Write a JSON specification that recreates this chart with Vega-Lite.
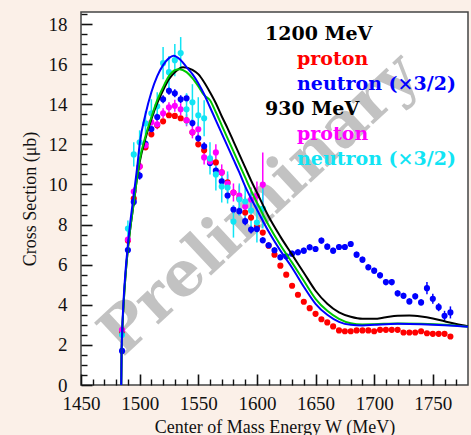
{
"$schema":"https://vega.github.io/schema/vega-lite/v6.json",
"width":387,"height":373,
"autosize":{"type":"none"},
"padding":{"left":81,"top":12,"right":3,"bottom":50},
"background":"#fbf0e8",
"config":{
 "view":{"fill":"white","stroke":"#444","strokeWidth":1.5},
 "axis":{"domain":false,"labelFont":"Liberation Serif","labelFontSize":19,"labelColor":"#111","titleFont":"Liberation Serif","titleFontSize":18,"titleFontWeight":"normal","titleColor":"#111","gridColor":"#777","gridDash":[2,2],"gridWidth":1,"tickColor":"#222","tickWidth":1.5,"labelOverlap":false,"labelFlush":false}
},
"datasets":{
 "pts":[
  {"s":"p1200","W":1485,"v":2.6,"e":0.1},{"s":"p1200","W":1490,"v":7.2,"e":0.1},{"s":"p1200","W":1495,"v":9.3,"e":0.1},{"s":"p1200","W":1500,"v":10.9,"e":0.1},{"s":"p1200","W":1505,"v":11.85,"e":0.1},{"s":"p1200","W":1510,"v":12.5,"e":0.1},{"s":"p1200","W":1515,"v":12.95,"e":0.1},{"s":"p1200","W":1520,"v":13.15,"e":0.1},{"s":"p1200","W":1525,"v":13.45,"e":0.1},{"s":"p1200","W":1530,"v":13.42,"e":0.1},{"s":"p1200","W":1535,"v":13.3,"e":0.1},{"s":"p1200","W":1540,"v":13.2,"e":0.1},{"s":"p1200","W":1545,"v":12.6,"e":0.1},{"s":"p1200","W":1550,"v":12.0,"e":0.1},{"s":"p1200","W":1555,"v":11.7,"e":0.1},{"s":"p1200","W":1560,"v":11.2,"e":0.1},{"s":"p1200","W":1565,"v":11.1,"e":0.1},{"s":"p1200","W":1570,"v":10.6,"e":0.1},{"s":"p1200","W":1575,"v":10.1,"e":0.1},{"s":"p1200","W":1580,"v":9.6,"e":0.1},{"s":"p1200","W":1585,"v":9.3,"e":0.1},{"s":"p1200","W":1590,"v":8.6,"e":0.1},{"s":"p1200","W":1595,"v":8.35,"e":0.1},{"s":"p1200","W":1600,"v":7.9,"e":0.1},{"s":"p1200","W":1605,"v":7.6,"e":0.1},{"s":"p1200","W":1610,"v":6.95,"e":0.1},{"s":"p1200","W":1615,"v":6.5,"e":0.1},{"s":"p1200","W":1620,"v":5.95,"e":0.1},{"s":"p1200","W":1625,"v":5.5,"e":0.1},{"s":"p1200","W":1630,"v":4.95,"e":0.1},{"s":"p1200","W":1635,"v":4.5,"e":0.1},{"s":"p1200","W":1640,"v":4.15,"e":0.1},{"s":"p1200","W":1645,"v":3.83,"e":0.1},{"s":"p1200","W":1650,"v":3.55,"e":0.1},{"s":"p1200","W":1655,"v":3.28,"e":0.1},{"s":"p1200","W":1660,"v":3.12,"e":0.1},{"s":"p1200","W":1665,"v":2.92,"e":0.1},{"s":"p1200","W":1670,"v":2.72,"e":0.1},{"s":"p1200","W":1675,"v":2.68,"e":0.1},{"s":"p1200","W":1680,"v":2.68,"e":0.1},{"s":"p1200","W":1685,"v":2.72,"e":0.1},{"s":"p1200","W":1690,"v":2.72,"e":0.1},{"s":"p1200","W":1695,"v":2.72,"e":0.1},{"s":"p1200","W":1700,"v":2.68,"e":0.1},{"s":"p1200","W":1705,"v":2.75,"e":0.1},{"s":"p1200","W":1710,"v":2.75,"e":0.1},{"s":"p1200","W":1715,"v":2.75,"e":0.1},{"s":"p1200","W":1720,"v":2.75,"e":0.1},{"s":"p1200","W":1725,"v":2.62,"e":0.1},{"s":"p1200","W":1730,"v":2.62,"e":0.1},{"s":"p1200","W":1735,"v":2.62,"e":0.1},{"s":"p1200","W":1740,"v":2.68,"e":0.1},{"s":"p1200","W":1745,"v":2.58,"e":0.1},{"s":"p1200","W":1750,"v":2.55,"e":0.1},{"s":"p1200","W":1755,"v":2.55,"e":0.1},{"s":"p1200","W":1760,"v":2.55,"e":0.1},{"s":"p1200","W":1765,"v":2.42,"e":0.1},
  {"s":"n1200","W":1485,"v":1.7,"e":0.15},{"s":"n1200","W":1490,"v":6.73,"e":0.15},{"s":"n1200","W":1495,"v":9.13,"e":0.2},{"s":"n1200","W":1500,"v":10.44,"e":0.2},{"s":"n1200","W":1505,"v":12.03,"e":0.2},{"s":"n1200","W":1510,"v":12.76,"e":0.2},{"s":"n1200","W":1515,"v":13.36,"e":0.2},{"s":"n1200","W":1520,"v":14.25,"e":0.2},{"s":"n1200","W":1525,"v":14.67,"e":0.2},{"s":"n1200","W":1530,"v":14.55,"e":0.2},{"s":"n1200","W":1535,"v":14.25,"e":0.2},{"s":"n1200","W":1540,"v":14.3,"e":0.2},{"s":"n1200","W":1545,"v":13.06,"e":0.2},{"s":"n1200","W":1550,"v":12.3,"e":0.2},{"s":"n1200","W":1555,"v":11.9,"e":0.2},{"s":"n1200","W":1560,"v":11.07,"e":0.2},{"s":"n1200","W":1565,"v":10.69,"e":0.2},{"s":"n1200","W":1570,"v":10.16,"e":0.2},{"s":"n1200","W":1575,"v":9.45,"e":0.2},{"s":"n1200","W":1580,"v":8.75,"e":0.2},{"s":"n1200","W":1585,"v":8.67,"e":0.2},{"s":"n1200","W":1590,"v":8.17,"e":0.2},{"s":"n1200","W":1595,"v":7.75,"e":0.2},{"s":"n1200","W":1600,"v":7.78,"e":0.2},{"s":"n1200","W":1605,"v":7.22,"e":0.15},{"s":"n1200","W":1610,"v":6.97,"e":0.15},{"s":"n1200","W":1615,"v":6.72,"e":0.15},{"s":"n1200","W":1620,"v":6.37,"e":0.15},{"s":"n1200","W":1625,"v":6.42,"e":0.15},{"s":"n1200","W":1630,"v":6.55,"e":0.15},{"s":"n1200","W":1635,"v":6.62,"e":0.15},{"s":"n1200","W":1640,"v":6.7,"e":0.15},{"s":"n1200","W":1645,"v":6.87,"e":0.15},{"s":"n1200","W":1650,"v":6.78,"e":0.15},{"s":"n1200","W":1655,"v":7.2,"e":0.15},{"s":"n1200","W":1660,"v":6.9,"e":0.15},{"s":"n1200","W":1665,"v":6.7,"e":0.15},{"s":"n1200","W":1670,"v":6.88,"e":0.15},{"s":"n1200","W":1675,"v":6.88,"e":0.15},{"s":"n1200","W":1680,"v":7.03,"e":0.15},{"s":"n1200","W":1685,"v":6.5,"e":0.15},{"s":"n1200","W":1690,"v":6.25,"e":0.15},{"s":"n1200","W":1695,"v":5.87,"e":0.15},{"s":"n1200","W":1700,"v":5.7,"e":0.15},{"s":"n1200","W":1705,"v":5.47,"e":0.15},{"s":"n1200","W":1710,"v":5.13,"e":0.15},{"s":"n1200","W":1715,"v":5.13,"e":0.15},{"s":"n1200","W":1720,"v":4.57,"e":0.15},{"s":"n1200","W":1725,"v":4.45,"e":0.15},{"s":"n1200","W":1730,"v":4.17,"e":0.15},{"s":"n1200","W":1735,"v":4.42,"e":0.15},{"s":"n1200","W":1740,"v":4.12,"e":0.15},{"s":"n1200","W":1745,"v":4.83,"e":0.3},{"s":"n1200","W":1750,"v":4.3,"e":0.25},{"s":"n1200","W":1755,"v":3.88,"e":0.2},{"s":"n1200","W":1760,"v":3.45,"e":0.25},{"s":"n1200","W":1765,"v":3.62,"e":0.3},
  {"s":"p930","W":1485,"v":2.75,"e":0.15},{"s":"p930","W":1490,"v":7.25,"e":0.2},{"s":"p930","W":1495,"v":9.65,"e":0.2},{"s":"p930","W":1500,"v":10.9,"e":0.2},{"s":"p930","W":1505,"v":11.95,"e":0.2},{"s":"p930","W":1510,"v":13.1,"e":0.25},{"s":"p930","W":1515,"v":13.0,"e":0.25},{"s":"p930","W":1520,"v":13.55,"e":0.25},{"s":"p930","W":1525,"v":13.85,"e":0.25},{"s":"p930","W":1530,"v":13.92,"e":0.3},{"s":"p930","W":1535,"v":13.75,"e":0.3},{"s":"p930","W":1540,"v":13.2,"e":0.3},{"s":"p930","W":1545,"v":12.6,"e":0.3},{"s":"p930","W":1550,"v":12.75,"e":0.35},{"s":"p930","W":1555,"v":11.35,"e":0.35},{"s":"p930","W":1560,"v":11.15,"e":0.35},{"s":"p930","W":1565,"v":11.6,"e":0.4},{"s":"p930","W":1570,"v":10.6,"e":0.4},{"s":"p930","W":1575,"v":10.05,"e":0.45},{"s":"p930","W":1580,"v":9.6,"e":0.45},{"s":"p930","W":1585,"v":9.45,"e":0.5},{"s":"p930","W":1590,"v":8.9,"e":0.5},{"s":"p930","W":1595,"v":9.25,"e":0.6},{"s":"p930","W":1600,"v":9.45,"e":0.7},{"s":"p930","W":1605,"v":10.0,"e":1.6},
  {"s":"n930","W":1485,"v":2.5,"e":0.2},{"s":"n930","W":1490,"v":7.8,"e":0.4},{"s":"n930","W":1495,"v":11.5,"e":0.6},{"s":"n930","W":1500,"v":12.1,"e":0.6},{"s":"n930","W":1505,"v":13.05,"e":0.6},{"s":"n930","W":1510,"v":13.55,"e":0.7},{"s":"n930","W":1515,"v":13.9,"e":0.7},{"s":"n930","W":1520,"v":16.05,"e":0.8},{"s":"n930","W":1525,"v":15.6,"e":0.8},{"s":"n930","W":1530,"v":16.2,"e":0.8},{"s":"n930","W":1535,"v":16.55,"e":0.8},{"s":"n930","W":1540,"v":13.75,"e":0.8},{"s":"n930","W":1545,"v":14.1,"e":0.9},{"s":"n930","W":1550,"v":13.45,"e":0.9},{"s":"n930","W":1555,"v":13.3,"e":0.9},{"s":"n930","W":1560,"v":11.3,"e":0.8},{"s":"n930","W":1565,"v":10.5,"e":0.8},{"s":"n930","W":1570,"v":9.9,"e":0.8},{"s":"n930","W":1575,"v":9.85,"e":0.8},{"s":"n930","W":1580,"v":8.15,"e":0.8},{"s":"n930","W":1585,"v":9.25,"e":0.8},{"s":"n930","W":1590,"v":9.15,"e":0.8},{"s":"n930","W":1595,"v":8.7,"e":0.9},{"s":"n930","W":1600,"v":8.1,"e":1.0},{"s":"n930","W":1605,"v":8.8,"e":1.0}
 ],
 "curves":[
  {"m":"black","W":1484.3,"v":0},{"m":"black","W":1484.6,"v":1.5},{"m":"black","W":1485,"v":2.4},{"m":"black","W":1486,"v":3.7},{"m":"black","W":1487,"v":4.7},{"m":"black","W":1488,"v":5.5},{"m":"black","W":1490,"v":6.8},{"m":"black","W":1492,"v":7.8},{"m":"black","W":1495,"v":9.1},{"m":"black","W":1498,"v":10.4},{"m":"black","W":1500,"v":11.1},{"m":"black","W":1505,"v":12.3},{"m":"black","W":1510,"v":13.25},{"m":"black","W":1515,"v":14.05},{"m":"black","W":1520,"v":14.7},{"m":"black","W":1525,"v":15.25},{"m":"black","W":1530,"v":15.6},{"m":"black","W":1537,"v":15.85},{"m":"black","W":1545,"v":15.72},{"m":"black","W":1550,"v":15.5},{"m":"black","W":1555,"v":15.1},{"m":"black","W":1560,"v":14.6},{"m":"black","W":1565,"v":14.05},{"m":"black","W":1570,"v":13.4},{"m":"black","W":1575,"v":12.8},{"m":"black","W":1580,"v":12.15},{"m":"black","W":1585,"v":11.5},{"m":"black","W":1590,"v":10.85},{"m":"black","W":1595,"v":10.2},{"m":"black","W":1600,"v":9.6},{"m":"black","W":1610,"v":8.4},{"m":"black","W":1620,"v":7.4},{"m":"black","W":1630,"v":6.5},{"m":"black","W":1640,"v":5.6},{"m":"black","W":1650,"v":4.7},{"m":"black","W":1660,"v":4.05},{"m":"black","W":1670,"v":3.62},{"m":"black","W":1680,"v":3.4},{"m":"black","W":1690,"v":3.3},{"m":"black","W":1700,"v":3.3},{"m":"black","W":1710,"v":3.38},{"m":"black","W":1720,"v":3.45},{"m":"black","W":1730,"v":3.47},{"m":"black","W":1740,"v":3.42},{"m":"black","W":1750,"v":3.32},{"m":"black","W":1760,"v":3.18},{"m":"black","W":1770,"v":3.04},{"m":"black","W":1780,"v":2.93},
  {"m":"green","W":1484.3,"v":0},{"m":"green","W":1484.6,"v":1.5},{"m":"green","W":1485,"v":2.4},{"m":"green","W":1486,"v":3.7},{"m":"green","W":1487,"v":4.7},{"m":"green","W":1488,"v":5.5},{"m":"green","W":1490,"v":6.8},{"m":"green","W":1492,"v":7.8},{"m":"green","W":1495,"v":9.1},{"m":"green","W":1498,"v":10.4},{"m":"green","W":1500,"v":11.2},{"m":"green","W":1505,"v":12.4},{"m":"green","W":1510,"v":13.35},{"m":"green","W":1515,"v":14.2},{"m":"green","W":1520,"v":14.85},{"m":"green","W":1525,"v":15.4},{"m":"green","W":1530,"v":15.7},{"m":"green","W":1534,"v":15.75},{"m":"green","W":1540,"v":15.6},{"m":"green","W":1545,"v":15.3},{"m":"green","W":1550,"v":14.9},{"m":"green","W":1555,"v":14.45},{"m":"green","W":1560,"v":14.2},{"m":"green","W":1565,"v":13.6},{"m":"green","W":1570,"v":12.95},{"m":"green","W":1575,"v":12.3},{"m":"green","W":1580,"v":11.65},{"m":"green","W":1585,"v":11.0},{"m":"green","W":1590,"v":10.35},{"m":"green","W":1595,"v":9.7},{"m":"green","W":1600,"v":9.1},{"m":"green","W":1610,"v":7.97},{"m":"green","W":1620,"v":6.98},{"m":"green","W":1630,"v":6.1},{"m":"green","W":1640,"v":5.2},{"m":"green","W":1650,"v":4.3},{"m":"green","W":1660,"v":3.7},{"m":"green","W":1670,"v":3.3},{"m":"green","W":1680,"v":3.08},{"m":"green","W":1690,"v":3.02},{"m":"green","W":1700,"v":3.03},{"m":"green","W":1720,"v":3.07},{"m":"green","W":1740,"v":3.05},{"m":"green","W":1760,"v":3.0},{"m":"green","W":1780,"v":2.9},
  {"m":"blue","W":1484.3,"v":0},{"m":"blue","W":1484.6,"v":1.6},{"m":"blue","W":1485,"v":2.5},{"m":"blue","W":1486,"v":3.9},{"m":"blue","W":1487,"v":4.9},{"m":"blue","W":1488,"v":5.7},{"m":"blue","W":1490,"v":7.0},{"m":"blue","W":1492,"v":8.1},{"m":"blue","W":1495,"v":9.5},{"m":"blue","W":1498,"v":10.9},{"m":"blue","W":1500,"v":12.0},{"m":"blue","W":1505,"v":13.5},{"m":"blue","W":1510,"v":14.6},{"m":"blue","W":1515,"v":15.4},{"m":"blue","W":1520,"v":15.95},{"m":"blue","W":1525,"v":16.3},{"m":"blue","W":1529,"v":16.42},{"m":"blue","W":1535,"v":16.2},{"m":"blue","W":1540,"v":15.85},{"m":"blue","W":1545,"v":15.5},{"m":"blue","W":1550,"v":15.05},{"m":"blue","W":1555,"v":14.5},{"m":"blue","W":1560,"v":13.85},{"m":"blue","W":1565,"v":13.2},{"m":"blue","W":1570,"v":12.55},{"m":"blue","W":1575,"v":11.9},{"m":"blue","W":1580,"v":11.25},{"m":"blue","W":1585,"v":10.6},{"m":"blue","W":1590,"v":9.9},{"m":"blue","W":1600,"v":8.75},{"m":"blue","W":1610,"v":7.65},{"m":"blue","W":1620,"v":6.7},{"m":"blue","W":1630,"v":5.85},{"m":"blue","W":1640,"v":4.9},{"m":"blue","W":1650,"v":4.05},{"m":"blue","W":1660,"v":3.5},{"m":"blue","W":1670,"v":3.15},{"m":"blue","W":1680,"v":3.0},{"m":"blue","W":1690,"v":2.97},{"m":"blue","W":1700,"v":3.0},{"m":"blue","W":1720,"v":3.05},{"m":"blue","W":1740,"v":3.03},{"m":"blue","W":1760,"v":2.98},{"m":"blue","W":1780,"v":2.9}
 ]
},
"resolve":{"axis":{"x":"independent","y":"independent"}},
"layer":[
 {"data":{"values":[{"t":"Preliminary"}]},
  "mark":{"type":"text","font":"DejaVu Serif","fontWeight":"bold","fontSize":62,"angle":317,"color":"#9a9a9a","opacity":0.6,"align":"center","baseline":"middle"},
  "encoding":{"text":{"field":"t"},"x":{"datum":1602,"type":"quantitative","axis":null},"y":{"datum":9.0,"type":"quantitative","axis":null}}},
 {"data":{"name":"pts"},
  "mark":{"type":"errorbar","thickness":1.5},
  "encoding":{
   "x":{"field":"W","type":"quantitative","scale":{"domain":[1450,1780],"nice":false,"zero":false},
     "axis":{"orient":"bottom","title":"Center of Mass Energy W (MeV)","values":[1450,1500,1550,1600,1650,1700,1750],"format":"d","labelOverlap":false,"labelBound":false,"ticks":false,"tickSize":0,"labelPadding":9,"titlePadding":5}},
   "y":{"field":"v","type":"quantitative","scale":{"domain":[0,18.6],"nice":false,"zero":false},
     "axis":{"orient":"left","title":"Cross Section (μb)","values":[0,2,4,6,8,10,12,14,16,18],"format":"d","labelOverlap":false,"ticks":false,"tickSize":0,"labelPadding":14,"titlePadding":9}},
   "yError":{"field":"e"},
   "color":{"field":"s","type":"nominal","scale":{"domain":["h1200","p1200","n1200","h930","p930","n930"],"range":["#000000","#ff0000","#0000ff","#000000","#ff00ff","#11e4f4"]},
     "legend":{"orient":"none","legendX":165,"legendY":12,"title":null,"padding":0,"labelFont":"DejaVu Serif","labelFontSize":19,"labelFontWeight":"bold","labelLimit":300,"symbolOpacity":0,"symbolSize":0,"symbolStrokeWidth":0,"labelOffset":0,"rowPadding":5,
      "labelExpr":"datum.value == 'h1200' ? '1200 MeV' : datum.value == 'h930' ? '930 MeV' : indexof(datum.value, 'p') == 0 ? 'proton' : 'neutron (×3/2)'",
      "encode":{"labels":{"update":{"fill":{"signal":"scale('color', datum.value)"},"dx":{"signal":"indexof(datum.value, 'h') == 0 ? 0 : 32"}}}}}}
  }},
 {"data":{"name":"pts"},
  "mark":{"type":"circle","size":38,"opacity":1},
  "encoding":{
   "x":{"field":"W","type":"quantitative","axis":{"orient":"bottom","title":null,"labels":false,"grid":false,"ticks":true,"tickColor":"#111","tickWidth":1.6,"tickSize":11,"offset":-11,"zindex":2,"values":[1450,1500,1550,1600,1650,1700,1750]}},
   "y":{"field":"v","type":"quantitative","axis":{"orient":"left","title":null,"labels":false,"grid":false,"ticks":true,"tickColor":"#111","tickWidth":1.6,"tickSize":11,"offset":-11,"zindex":2,"values":[0,2,4,6,8,10,12,14,16,18]}},
   "color":{"field":"s","type":"nominal"}}},
 {"data":{"name":"curves"},
  "mark":{"type":"line","strokeWidth":2,"interpolate":"monotone"},
  "encoding":{
   "x":{"field":"W","type":"quantitative","axis":{"orient":"bottom","title":null,"labels":false,"grid":false,"ticks":true,"tickColor":"#111","tickWidth":1.4,"tickSize":6,"offset":-6,"zindex":2,"values":[1460,1470,1480,1490,1510,1520,1530,1540,1560,1570,1580,1590,1610,1620,1630,1640,1660,1670,1680,1690,1710,1720,1730,1740,1760,1770]}},
   "y":{"field":"v","type":"quantitative","axis":{"orient":"left","title":null,"labels":false,"grid":false,"ticks":true,"tickColor":"#111","tickWidth":1.4,"tickSize":6,"offset":-6,"zindex":2,"values":[0.5,1,1.5,2.5,3,3.5,4.5,5,5.5,6.5,7,7.5,8.5,9,9.5,10.5,11,11.5,12.5,13,13.5,14.5,15,15.5,16.5,17,17.5,18.5]}},
   "stroke":{"field":"m","type":"nominal","scale":{"domain":["black","green","blue"],"range":["#000000","#00c800","#0000ff"]},"legend":null},
   "order":{"field":"W","type":"quantitative"}}}
]
}
